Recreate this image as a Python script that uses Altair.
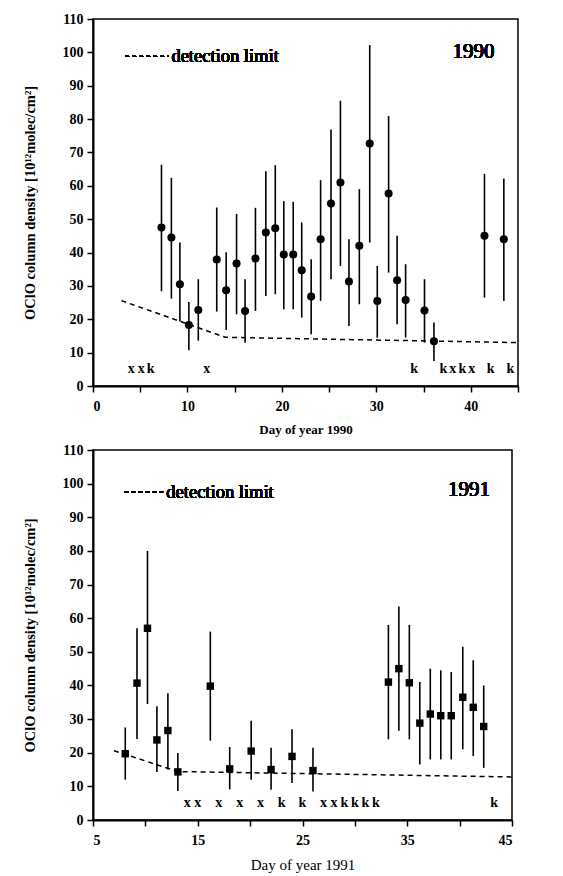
import altair as alt
import pandas as pd

FONT = "Liberation Serif"

# ---------------- 1990 ----------------
days90 = [7.25, 8.3, 9.2, 10.15, 11.15, 13.1, 14.1, 15.2, 16.1, 17.2, 18.3, 19.3, 20.2, 21.2, 22.1,
          23.1, 24.1, 25.2, 26.2, 27.1, 28.2, 29.3, 30.1, 31.3, 32.2, 33.1, 35.1, 36.1, 41.45, 43.5]
val90 = [47.5, 44.5, 30.5, 18.3, 22.8, 37.9, 28.7, 36.7, 22.5, 38.2, 46, 47.3, 39.4, 39.4, 34.7,
         26.8, 44, 54.7, 61, 31.3, 42, 72.7, 25.5, 57.7, 31.7, 25.8, 22.6, 13.4, 45, 44]
lo90 = [28.4, 26.2, 19.3, 10.7, 13.6, 22.3, 16.8, 21.5, 13, 22.5, 27, 27.5, 23, 23, 20.5,
        15.5, 25.5, 32, 36, 18, 24.5, 43, 14.5, 34, 18.5, 14.5, 13, 7.5, 26.5, 25.5]
hi90 = [66.3, 62.4, 43, 25.2, 32, 53.5, 40.1, 51.6, 32, 53.4, 64.4, 66.2, 55.4, 55.2, 49,
        38, 61.7, 76.9, 85.5, 44, 59, 102.2, 36, 80.9, 45, 36.5, 32, 19, 63.6, 62.2]
code_days90 = [4.05, 5.1, 6.1, 12.05, 34, 37.1, 38.1, 39.1, 40.1, 42.1, 44.2]
code_lbl90 = ["x", "x", "k", "x", "k", "k", "x", "k", "x", "k", "k"]
dl_days90 = [3, 14, 45]
dl_vals90 = [25.6, 14.6, 13]

# ---------------- 1991 ----------------
days91 = [8.08, 9.2, 10.2, 11.1, 12.15, 13.1, 16.2, 18.05, 20.1, 22.0, 24.0, 26.0,
          33.2, 34.2, 35.2, 36.2, 37.2, 38.2, 39.2, 40.3, 41.3, 42.3]
val91 = [19.7, 40.7, 57, 23.8, 26.6, 14.3, 39.8, 15.2, 20.5, 15, 18.9, 14.7,
         41, 45, 40.8, 28.8, 31.5, 31, 31, 36.5, 33.5, 27.8]
lo91 = [12, 24.1, 34.5, 14.3, 15, 8.6, 23.6, 9.1, 12, 9, 11, 8.5,
        24, 26.5, 24, 16.5, 18, 18, 18, 21, 19, 15.5]
hi91 = [27.5, 57, 80, 33.8, 37.7, 19.9, 56, 21.7, 29.5, 21.5, 27, 21.5,
        58, 63.5, 58, 41, 45, 44.5, 44, 51.5, 47.5, 40]
code_days91 = [14, 15, 17, 19, 21, 23, 25, 27, 28, 29, 30, 31, 32, 43.3]
code_lbl91 = ["x", "x", "x", "x", "x", "k", "k", "x", "x", "k", "k", "k", "k", "k"]
dl_days91 = [7, 13.1, 45]
dl_vals91 = [20.6, 14.4, 12.8]

YTITLE = "OClO column density [10¹²molec/cm²]"


def panel(days, vals, lo, hi, cdays, clbl, dldays, dlvals, xdom, xtick_vals, mod,
          xtitle, xtitle_weight, xtitle_size, shape, msize, year, year_x, year_y,
          leg_x1, leg_x2, leg_y, leg_tx, w, h):
    pts = pd.DataFrame({"day": days, "val": vals, "lo": lo, "hi": hi})
    codes = pd.DataFrame({"day": cdays, "code": clbl, "y": [5] * len(cdays)})
    dl = pd.DataFrame({"day": dldays, "val": dlvals})

    xsc = alt.Scale(domain=xdom, nice=False, zero=False)
    ysc = alt.Scale(domain=[0, 110], nice=False)
    xax = alt.Axis(values=xtick_vals, labelExpr=f"datum.value % 10 == {mod} ? datum.label : ''",
                   title=xtitle, titleFontWeight=xtitle_weight, titleFontSize=xtitle_size,
                   labelOverlap=False)
    yax = alt.Axis(values=list(range(0, 111, 10)), title=YTITLE, labelOverlap=False)

    def X(f):
        return alt.X(f, scale=xsc, axis=xax)

    def Y(f):
        return alt.Y(f, scale=ysc, axis=yax)

    base = alt.Chart(pts)
    err = base.mark_rule(color="black", strokeWidth=1.6).encode(
        x=X("day:Q"), y=Y("lo:Q"), y2="hi:Q"
    )
    dots = base.mark_point(shape=shape, filled=True, color="black", opacity=1,
                           size=msize).encode(
        x=X("day:Q"), y=Y("val:Q")
    )
    line = alt.Chart(dl).mark_line(color="black", strokeDash=[5, 4], strokeWidth=1.5).encode(
        x=X("day:Q"), y=Y("val:Q")
    )
    txt = alt.Chart(codes).mark_text(font=FONT, fontWeight="bold", fontSize=14,
                                     color="black").encode(
        x=X("day:Q"), y=Y("y:Q"), text="code:N"
    )
    leg_line = alt.Chart(pts).mark_rule(color="black", strokeDash=[4, 3], strokeWidth=1.3).encode(
        x=alt.datum(leg_x1, scale=xsc, axis=xax), x2=alt.datum(leg_x2),
        y=alt.datum(leg_y, scale=ysc, axis=yax)
    )
    leg_text = alt.Chart(pts).mark_text(font=FONT, fontSize=18.5, align="left", baseline="middle",
                                        color="black").encode(
        x=alt.datum(leg_tx, scale=xsc, axis=xax), y=alt.datum(leg_y, scale=ysc, axis=yax),
        text=alt.value("detection limit")
    )
    yr = alt.Chart(pts).mark_text(font=FONT, fontSize=21, align="center", baseline="middle",
                                  fontWeight="normal", color="black").encode(
        x=alt.datum(year_x, scale=xsc, axis=xax), y=alt.datum(year_y, scale=ysc, axis=yax),
        text=alt.value(year)
    )
    return alt.layer(err, dots, line, txt, leg_line, leg_text, yr).properties(width=w, height=h)


top = panel(days90, val90, lo90, hi90, code_days90, code_lbl90, dl_days90, dl_vals90,
            [0, 45], list(range(0, 46, 5)), 0, "Day of year 1990", "bold", 13, "circle", 65,
            "1990", 40.3, 100, 3.4, 8.0, 98.8, 8.3, 425, 367)
bot = panel(days91, val91, lo91, hi91, code_days91, code_lbl91, dl_days91, dl_vals91,
            [5, 45], list(range(5, 46, 5)), 5, "Day of year 1991", "normal", 15, "square", 55,
            "1991", 40.9, 98, 8.0, 11.7, 97.6, 12.0, 419, 370)

chart = alt.vconcat(top, bot, spacing=5).properties(
    padding={"left": 13, "top": 3, "right": 5, "bottom": 3}
).configure_view(
    stroke="black", strokeWidth=1.5
).configure_axis(
    grid=False, domainColor="black", domainWidth=2, tickColor="black", tickWidth=1.5,
    tickSize=6, labelFont=FONT, labelFontWeight="bold", labelFontSize=14, labelColor="black",
    titleFont=FONT, titleFontSize=13, titleColor="black", labelPadding=4,
).configure_axisY(titleFontWeight="bold", titleFontSize=14.5, titlePadding=25
).configure_axisX(titlePadding=10, labelPadding=7)

chart.save("out.html", embed_options={"renderer": "svg", "actions": False})
